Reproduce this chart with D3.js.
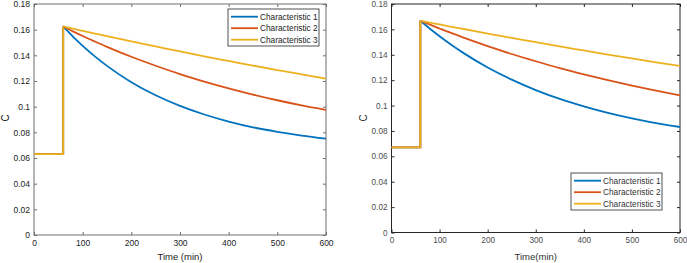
<!DOCTYPE html>
<html>
<head>
<meta charset="utf-8">
<script src="https://cdn.jsdelivr.net/npm/d3@7"></script>
<style>
  body { margin: 0; background: #fff; }
  svg { display: block; font-family: "Liberation Sans", Arial, sans-serif; }
</style>
</head>
<body>
<svg id="chart" width="687" height="263"></svg>
<script>
// time points (min) and values
const stepTime = [0, 60, 60];
const decayTime = [60, 80, 100, 125, 150, 200, 250, 300, 350, 400, 450, 500, 550, 600];

const leftBase = [0.063, 0.063, 0.1625];
const leftC1 = [0.1625, 0.1546, 0.1474, 0.1392, 0.1318, 0.1191, 0.1089, 0.1006, 0.0939, 0.0884, 0.0839, 0.0804, 0.0775, 0.0751];
const leftC2 = [0.1625, 0.1587, 0.1551, 0.1508, 0.1466, 0.1389, 0.1319, 0.1254, 0.1196, 0.1143, 0.1094, 0.1050, 0.1010, 0.0975];
const leftC3 = [0.1625, 0.1608, 0.1591, 0.1570, 0.1549, 0.1508, 0.1469, 0.1430, 0.1392, 0.1356, 0.1320, 0.1285, 0.1252, 0.1219];

const rightBase = [0.067, 0.067, 0.1668];
const rightC1 = [0.1668, 0.1605, 0.1546, 0.1477, 0.1413, 0.1300, 0.1204, 0.1122, 0.1052, 0.0993, 0.0942, 0.0899, 0.0862, 0.0831];
const rightC2 = [0.1668, 0.1637, 0.1607, 0.1570, 0.1535, 0.1468, 0.1406, 0.1349, 0.1295, 0.1246, 0.1200, 0.1157, 0.1117, 0.1080];
const rightC3 = [0.1668, 0.1653, 0.1639, 0.1620, 0.1603, 0.1567, 0.1533, 0.1499, 0.1466, 0.1434, 0.1402, 0.1371, 0.1341, 0.1312];

const seriesNames = ["Characteristic 1", "Characteristic 2", "Characteristic 3"];
const seriesColors = ["#0072BD", "#D95319", "#EDB120"];
const xTicks = [0, 100, 200, 300, 400, 500, 600];
const yTicks = [0, 0.02, 0.04, 0.06, 0.08, 0.1, 0.12, 0.14, 0.16, 0.18];

const svg = d3.select("#chart");

function drawPanel(cfg) {
    const x = d3.scaleLinear().domain([0, 600]).range([cfg.x0, cfg.x1]);
    const y = d3.scaleLinear().domain([0, 0.18]).range([cfg.y0, cfg.y1]);
    const g = svg.append("g");

    // axes, MATLAB style ticks pointing inwards
    g.append("g")
        .attr("transform", `translate(${cfg.x0},0)`)
        .call(d3.axisLeft(y).tickValues(yTicks).tickSize(-3).tickPadding(4)
            .tickFormat(d => String(+d.toFixed(2))));
    g.append("g")
        .attr("transform", `translate(0,${cfg.y0})`)
        .call(d3.axisBottom(x).tickValues(xTicks).tickSize(-3).tickPadding(5));
    g.append("g")
        .attr("transform", `translate(0,${cfg.y1})`)
        .call(d3.axisTop(x).tickValues(xTicks).tickSize(-3).tickFormat(""));
    g.append("g")
        .attr("transform", `translate(${cfg.x1},0)`)
        .call(d3.axisRight(y).tickValues(yTicks).tickSize(-3).tickFormat(""));

    g.selectAll(".domain").remove();
    g.selectAll(".tick line").attr("stroke", cfg.axisColor);
    g.selectAll(".tick text")
        .attr("fill", cfg.textColor)
        .style("font-size", cfg.tickFont)
        .style("font-family", "'Liberation Sans', Arial, sans-serif");

    g.append("rect")
        .attr("x", cfg.x0).attr("y", cfg.y1)
        .attr("width", cfg.x1 - cfg.x0).attr("height", cfg.y0 - cfg.y1)
        .attr("fill", "none").attr("stroke", cfg.axisColor).attr("stroke-width", 1);

    const line = d3.line().x(d => x(d[0])).y(d => y(d[1]));
    const curve = d3.line().x(d => x(d[0])).y(d => y(d[1])).curve(d3.curveMonotoneX);

    cfg.series.forEach((vals, i) => {
        g.append("path")
            .datum(decayTime.map((t, j) => [t, vals[j]]))
            .attr("d", curve)
            .attr("fill", "none")
            .attr("stroke", seriesColors[i])
            .attr("stroke-width", 1.8);
    });
    // the step part is overdrawn by the last series (all three coincide)
    seriesColors.forEach(c => {
        g.append("path")
            .datum(stepTime.map((t, j) => [t, cfg.base[j]]))
            .attr("d", line)
            .attr("fill", "none")
            .attr("stroke", c)
            .attr("stroke-width", 1.8);
    });

    // axis labels
    g.append("text")
        .attr("x", (cfg.x0 + cfg.x1) / 2).attr("y", 260)
        .attr("text-anchor", "middle")
        .attr("fill", cfg.labelColor)
        .style("font-size", "9.5px")
        .text(cfg.xLabel);
    g.append("text")
        .attr("transform", `translate(${cfg.yLabelX},118) rotate(-90)`)
        .attr("text-anchor", "middle")
        .attr("fill", cfg.labelColor)
        .style("font-size", "10px")
        .text("C");

    // legend
    const lg = g.append("g").attr("transform", `translate(${cfg.legend.x},${cfg.legend.y})`);
    lg.append("rect")
        .attr("width", 91).attr("height", 37)
        .attr("fill", "#fff").attr("stroke", "#262626").attr("stroke-width", 0.8);
    seriesNames.forEach((name, i) => {
        const yy = 7.7 + i * 11.5;
        lg.append("line")
            .attr("x1", 3).attr("x2", 30).attr("y1", yy).attr("y2", yy)
            .attr("stroke", seriesColors[i]).attr("stroke-width", 1.8);
        lg.append("text")
            .attr("x", 32).attr("y", yy + 3)
            .attr("fill", cfg.legendText)
            .style("font-size", "8.3px")
            .text(name);
    });
}

drawPanel({
    x0: 34, x1: 326, y0: 235, y1: 4,
    base: leftBase, series: [leftC1, leftC2, leftC3],
    axisColor: "#6e6e6e", textColor: "#222", labelColor: "#222", legendText: "#222",
    tickFont: "8.5px",
    xLabel: "Time (min)", yLabelX: 9,
    legend: {x: 228, y: 9}
});

drawPanel({
    x0: 391.5, x1: 680, y0: 232.5, y1: 4,
    base: rightBase, series: [rightC1, rightC2, rightC3],
    axisColor: "#262626", textColor: "#4d4d4d", labelColor: "#333", legendText: "#333",
    tickFont: "8.2px",
    xLabel: "Time(min)", yLabelX: 367,
    legend: {x: 571, y: 173}
});
</script>
</body>
</html>
